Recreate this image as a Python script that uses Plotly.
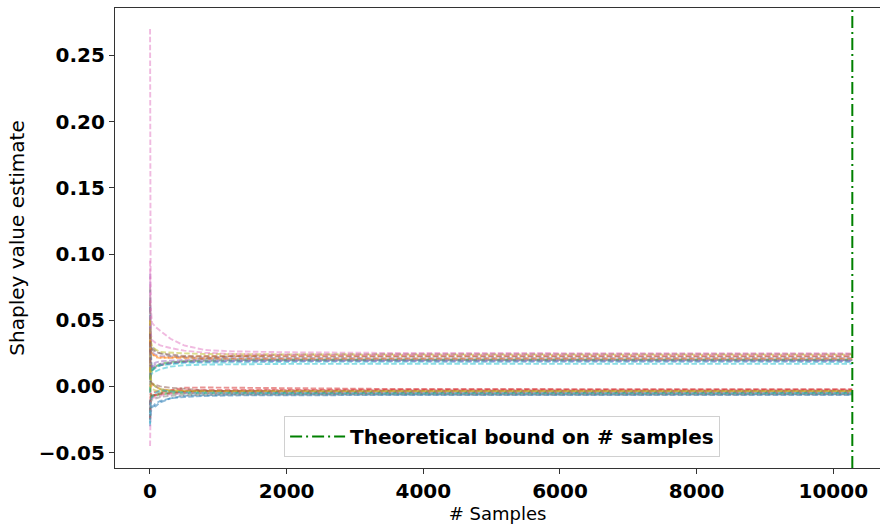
import plotly.graph_objects as go

# Number of sampled permutations at which the running estimates are recorded
samples = [1, 3, 10, 30, 80, 150, 300, 500, 800, 1200, 2000, 3500, 6000, 10278]

# Sample count given by the theoretical bound
bound_samples = 10278

# Running Shapley value estimates, one list per feature
phi_00 = [0.060, 0.035, 0.028, 0.012, 0.014, 0.016, 0.0175, 0.0185, 0.0190, 0.0192, 0.0195, 0.0196, 0.0195, 0.0195]
phi_01 = [0.020, 0.005, -0.002, 0.002, 0.000, -0.002, -0.003, -0.0035, -0.0038, -0.0040, -0.0041, -0.0040, -0.0040, -0.0040]
phi_02 = [-0.020, -0.012, -0.008, -0.007, -0.006, -0.005, -0.0045, -0.004, -0.0038, -0.0036, -0.0035, -0.0035, -0.0036, -0.0035]
phi_03 = [0.010, -0.008, -0.010, -0.008, -0.007, -0.005, -0.003, -0.001, -0.0008, -0.0010, -0.0015, -0.0019, -0.0020, -0.0020]
phi_04 = [0.085, 0.050, 0.030, 0.026, 0.024, 0.023, 0.0225, 0.022, 0.0218, 0.0216, 0.0215, 0.0214, 0.0215, 0.0215]
phi_05 = [0.040, 0.010, 0.018, 0.014, 0.015, 0.016, 0.0175, 0.019, 0.021, 0.023, 0.0240, 0.0245, 0.0246, 0.0245]
phi_06 = [0.270, 0.100, 0.060, 0.048, 0.045, 0.042, 0.036, 0.031, 0.0275, 0.0265, 0.0258, 0.0253, 0.0251, 0.0250]
phi_07 = [0.075, 0.040, 0.020, 0.030, 0.027, 0.025, 0.023, 0.022, 0.021, 0.0208, 0.0205, 0.0206, 0.0205, 0.0205]
phi_08 = [0.020, 0.045, 0.035, 0.030, 0.028, 0.026, 0.0255, 0.025, 0.0245, 0.0243, 0.0242, 0.0240, 0.0241, 0.0240]
phi_09 = [-0.005, 0.002, 0.008, 0.010, 0.011, 0.013, 0.015, 0.016, 0.0165, 0.0168, 0.0170, 0.0171, 0.0170, 0.0170]
phi_10 = [-0.030, -0.020, -0.016, -0.014, -0.015, -0.012, -0.009, -0.007, -0.0065, -0.0062, -0.0061, -0.0060, -0.0060, -0.0060]
phi_11 = [0.050, 0.030, 0.026, 0.025, 0.022, 0.0215, 0.022, 0.0225, 0.0228, 0.0230, 0.0231, 0.0230, 0.0230, 0.0230]
phi_12 = [0.005, 0.008, 0.010, 0.012, 0.015, 0.017, 0.0185, 0.019, 0.0195, 0.0198, 0.0200, 0.0200, 0.0201, 0.0200]
phi_13 = [-0.015, -0.010, -0.006, -0.005, -0.004, -0.0035, -0.003, -0.0028, -0.0027, -0.0026, -0.0025, -0.0025, -0.0025, -0.0025]
phi_14 = [0.030, 0.015, 0.012, 0.016, 0.018, 0.019, 0.0195, 0.020, 0.0202, 0.0201, 0.0200, 0.0200, 0.0201, 0.0200]
phi_15 = [0.065, 0.040, 0.030, 0.028, 0.026, 0.025, 0.024, 0.023, 0.0228, 0.0226, 0.0225, 0.0226, 0.0225, 0.0225]
phi_16 = [0.095, 0.055, 0.040, 0.035, 0.033, 0.031, 0.029, 0.027, 0.0255, 0.0245, 0.0240, 0.0237, 0.0236, 0.0235]
phi_17 = [0.030, 0.010, 0.004, 0.002, 0.000, -0.002, -0.004, -0.005, -0.0053, -0.0055, -0.0056, -0.0055, -0.0055, -0.0055]
phi_18 = [0.050, 0.015, 0.006, 0.003, 0.000, -0.002, -0.003, -0.0035, -0.0038, -0.0040, -0.0040, -0.0041, -0.0040, -0.0040]
phi_19 = [0.010, 0.005, 0.010, 0.013, 0.015, 0.016, 0.017, 0.0178, 0.018, 0.0183, 0.0185, 0.0186, 0.0185, 0.0185]
phi_20 = [-0.010, -0.025, -0.020, -0.016, -0.013, -0.011, -0.009, -0.008, -0.0072, -0.0068, -0.0066, -0.0065, -0.0065, -0.0065]
phi_21 = [0.035, 0.028, 0.025, 0.024, 0.023, 0.022, 0.0215, 0.0212, 0.0211, 0.0210, 0.0210, 0.0211, 0.0210, 0.0210]
phi_22 = [0.000, -0.004, -0.006, -0.008, -0.007, -0.006, -0.0055, -0.0052, -0.0051, -0.0050, -0.0050, -0.0051, -0.0050, -0.0050]
phi_23 = [-0.025, -0.015, -0.008, -0.007, -0.0063, -0.006, -0.005, -0.004, -0.0035, -0.0032, -0.0030, -0.0030, -0.0031, -0.0030]
phi_24 = [0.045, 0.020, 0.016, 0.015, 0.0165, 0.017, 0.018, 0.0185, 0.0188, 0.0190, 0.0191, 0.0190, 0.0190, 0.0190]
phi_25 = [0.040, 0.008, 0.004, 0.002, 0.001, 0.000, -0.001, -0.002, -0.003, -0.0038, -0.0043, -0.0045, -0.0045, -0.0045]
phi_26 = [-0.045, -0.020, -0.012, -0.009, -0.008, -0.007, -0.006, -0.005, -0.0048, -0.0046, -0.0045, -0.0045, -0.0046, -0.0045]
phi_27 = [-0.025, -0.015, -0.012, -0.010, -0.009, -0.008, -0.007, -0.0065, -0.0062, -0.0061, -0.0060, -0.0060, -0.0061, -0.0060]
phi_28 = [0.015, 0.008, 0.000, -0.002, -0.003, -0.0035, -0.0038, -0.0037, -0.0036, -0.0035, -0.0035, -0.0035, -0.0035, -0.0035]
phi_29 = [-0.028, -0.018, -0.010, -0.008, -0.005, -0.003, -0.0035, -0.0045, -0.0048, -0.0050, -0.0050, -0.0051, -0.0050, -0.0050]

estimates = [
    phi_00, phi_01, phi_02, phi_03, phi_04, phi_05, phi_06, phi_07, phi_08, phi_09,
    phi_10, phi_11, phi_12, phi_13, phi_14, phi_15, phi_16, phi_17, phi_18, phi_19,
    phi_20, phi_21, phi_22, phi_23, phi_24, phi_25, phi_26, phi_27, phi_28, phi_29,
]

x_ticks = [0, 2000, 4000, 6000, 8000, 10000]
x_tick_text = ["0", "2000", "4000", "6000", "8000", "10000"]
y_ticks = [-0.05, 0.00, 0.05, 0.10, 0.15, 0.20, 0.25]
y_tick_text = ["\u22120.05", "0.00", "0.05", "0.10", "0.15", "0.20", "0.25"]

x_range = [-512, 10683]
y_range = [-0.0616, 0.2858]

palette = ["#1f77b4", "#ff7f0e", "#2ca02c", "#d62728", "#9467bd",
           "#8c564b", "#e377c2", "#7f7f7f", "#bcbd22", "#17becf"]

fig = go.Figure()

for i, est in enumerate(estimates):
    fig.add_trace(go.Scatter(
        x=samples, y=est, mode="lines",
        line=dict(color=palette[i % len(palette)], width=1.9, dash="5.5px,2.4px"),
        opacity=0.5, showlegend=False, hoverinfo="skip",
    ))

fig.add_trace(go.Scatter(
    x=[bound_samples, bound_samples], y=y_range, mode="lines",
    line=dict(color="#008000", width=2, dash="12px,4px,2px,4px"),
    name="Theoretical bound on # samples",
))

axis_common = dict(
    showline=True, linecolor="#333333", linewidth=1.2,
    ticks="outside", ticklen=5, tickwidth=1.2, tickcolor="#333333",
    showgrid=False, zeroline=False,
    tickfont=dict(family="DejaVu Sans", size=20, color="black", weight="bold"),
)

fig.update_layout(
    width=880, height=527,
    margin=dict(l=115, r=0, t=8, b=59),
    paper_bgcolor="white", plot_bgcolor="white",
    font=dict(family="DejaVu Sans", color="black"),
    xaxis=dict(
        range=x_range, tickvals=x_ticks, ticktext=x_tick_text, mirror=True,
        title=dict(text="# Samples", font=dict(family="DejaVu Sans", size=18), standoff=1),
        **axis_common,
    ),
    yaxis=dict(
        range=y_range, tickvals=y_ticks, ticktext=y_tick_text,
        title=dict(text="Shapley value estimate", font=dict(family="DejaVu Sans", size=20), standoff=8),
        **axis_common,
    ),
    legend=dict(
        x=0.506, y=0.024, xanchor="center", yanchor="bottom",
        bgcolor="white", bordercolor="#d0d0d0", borderwidth=1,
        itemwidth=55,
        font=dict(family="DejaVu Sans", size=20, color="black", weight="bold"),
    ),
)

fig.write_html("out.html")
